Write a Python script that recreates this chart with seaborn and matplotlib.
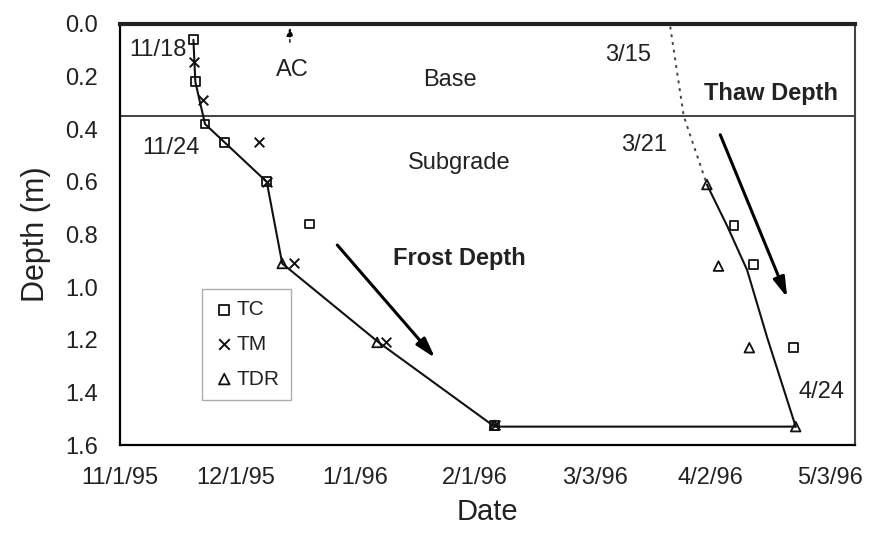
import matplotlib
matplotlib.use("Agg")
import matplotlib.pyplot as plt
import seaborn as sns
import pandas as pd
import numpy as np

# ---------------- data ----------------
frost_dates = ["1995-11-20 00:00", "1995-11-20 12:00", "1995-11-23 00:00", "1995-12-09 00:00",
               "1995-12-13 00:00", "1996-01-07 00:00", "1996-02-06 00:00", "1996-04-24 00:00"]
frost_depth = [0.06, 0.22, 0.38, 0.60, 0.91, 1.21, 1.53, 1.53]

thaw_dates = ["1996-04-01 00:00", "1996-04-06 08:00", "1996-04-11 10:00",
              "1996-04-16 14:00", "1996-04-24 00:00"]
thaw_depth = [0.61, 0.77, 0.935, 1.19, 1.53]

thaw_dotted_dates = ["1996-03-22 12:00", "1996-03-26 00:00", "1996-04-01 00:00"]
thaw_dotted_depth = [0.01, 0.35, 0.61]

tc_dates = ["1995-11-20 00:00", "1995-11-20 12:00", "1995-11-23 00:00", "1995-11-28 00:00",
            "1995-12-09 00:00", "1995-12-20 00:00", "1996-02-06 00:00", "1996-04-08 00:00",
            "1996-04-13 00:00", "1996-04-23 12:00"]
tc_depth = [0.06, 0.22, 0.38, 0.45, 0.60, 0.76, 1.525, 0.765, 0.915, 1.23]

tm_dates = ["1995-11-20 06:00", "1995-11-22 12:00", "1995-12-07 00:00", "1995-12-09 00:00",
            "1995-12-16 00:00", "1996-01-09 00:00", "1996-02-06 00:00"]
tm_depth = [0.145, 0.29, 0.45, 0.60, 0.91, 1.21, 1.525]

tdr_dates = ["1995-12-13 00:00", "1996-01-06 14:00", "1996-02-06 00:00", "1996-04-01 00:00",
             "1996-04-04 00:00", "1996-04-12 00:00", "1996-04-24 00:00"]
tdr_depth = [0.91, 1.21, 1.525, 0.61, 0.92, 1.23, 1.53]

layer_depth = 0.35

tick_dates = ["1995-11-01", "1995-12-01", "1996-01-01", "1996-02-01",
              "1996-03-03", "1996-04-02", "1996-05-03"]
tick_labels = ["11/1/95", "12/1/95", "1/1/96", "2/1/96", "3/3/96", "4/2/96", "5/3/96"]
y_ticks = [0.0, 0.2, 0.4, 0.6, 0.8, 1.0, 1.2, 1.4, 1.6]

# ---------------- style ----------------
sns.set_style("white")
plt.rcParams["font.family"] = ["Liberation Sans", "DejaVu Sans"]

fig, ax = plt.subplots(figsize=(8.7, 5.33), dpi=100)
fig.subplots_adjust(left=0.138, right=0.983, top=0.955, bottom=0.165)

def D(lst):
    return pd.to_datetime(pd.Series(lst), format="ISO8601")

# lines
sns.lineplot(x=D(frost_dates), y=frost_depth, sort=False, estimator=None,
             color="#111111", linewidth=1.5, ax=ax)
sns.lineplot(x=D(thaw_dates), y=thaw_depth, sort=False, estimator=None,
             color="#111111", linewidth=1.5, ax=ax)
sns.lineplot(x=D(thaw_dotted_dates), y=thaw_dotted_depth, sort=False, estimator=None,
             color="#444444", linewidth=1.4, linestyle=(0, (1.5, 2.5)), ax=ax)

# markers
sns.scatterplot(x=D(tc_dates), y=tc_depth, marker="s", s=40, facecolor="none",
                edgecolor="#111111", linewidth=1.3, label="TC", ax=ax, zorder=3)
sns.scatterplot(x=D(tm_dates), y=tm_depth, marker="x", s=48, color="#111111",
                linewidth=1.4, label="TM", ax=ax, zorder=3)
sns.scatterplot(x=D(tdr_dates), y=tdr_depth, marker="^", s=48, facecolor="none",
                edgecolor="#111111", linewidth=1.3, label="TDR", ax=ax, zorder=3)

# layer boundary
ax.axhline(layer_depth, color="#333333", linewidth=1.3, zorder=1)

# axes limits / ticks
ax.set_xlim(pd.Timestamp("1995-11-01"), pd.Timestamp("1996-05-09 10:00"))
ax.set_ylim(1.6, 0.0)
ax.set_xticks(pd.to_datetime(tick_dates))
ax.set_xticklabels(tick_labels)
ax.set_yticks(y_ticks)
ax.set_yticklabels([f"{v:.1f}" for v in y_ticks])
ax.tick_params(axis="both", which="major", direction="inout", length=12,
               width=1.4, color="black", labelsize=17, labelcolor="#222222")
ax.tick_params(axis="x", pad=10)
ax.tick_params(axis="y", pad=10)

ax.set_xlabel("Date", fontsize=21, color="#222222", labelpad=6)
ax.set_ylabel("Depth (m)", fontsize=22, color="#222222", labelpad=10)

for side in ["left", "bottom"]:
    ax.spines[side].set_color("black")
    ax.spines[side].set_linewidth(1.6)
ax.spines["top"].set_color("#222222")
ax.spines["top"].set_linewidth(3)
ax.spines["right"].set_color("#444444")
ax.spines["right"].set_linewidth(1.5)

# annotations
tk = dict(transform=ax.transAxes, color="#222222", va="center")
ax.text(0.091, 0.938, "11/18", ha="right", fontsize=17, **tk)
ax.text(0.069, 0.705, "11/24", ha="center", fontsize=17, **tk)
ax.text(0.235, 0.891, "AC", ha="center", fontsize=17, **tk)
ax.text(0.449, 0.867, "Base", ha="center", fontsize=17, **tk)
ax.text(0.461, 0.670, "Subgrade", ha="center", fontsize=17, **tk)
ax.text(0.461, 0.444, "Frost Depth", ha="center", fontsize=17, fontweight="bold", **tk)
ax.text(0.691, 0.926, "3/15", ha="center", fontsize=17, **tk)
ax.text(0.886, 0.836, "Thaw Depth", ha="center", fontsize=17, fontweight="bold", **tk)
ax.text(0.713, 0.713, "3/21", ha="center", fontsize=17, **tk)
ax.text(0.954, 0.126, "4/24", ha="center", fontsize=17, **tk)

arrow_kw = dict(arrowstyle="-|>,head_length=1.2,head_width=0.35", color="black", lw=2.2)
ax.annotate("", xy=(0.431, 0.202), xytext=(0.293, 0.480),
            xycoords="axes fraction", textcoords="axes fraction", arrowprops=arrow_kw)
ax.annotate("", xy=(0.909, 0.344), xytext=(0.815, 0.743),
            xycoords="axes fraction", textcoords="axes fraction", arrowprops=arrow_kw)
ax.annotate("", xy=(0.231, 0.998), xytext=(0.231, 0.950),
            xycoords="axes fraction", textcoords="axes fraction",
            arrowprops=dict(arrowstyle="-|>,head_length=0.5,head_width=0.2",
                            color="black", lw=1.0, linestyle=(0, (2, 2))))

leg = ax.legend(loc="upper left", bbox_to_anchor=(0.112, 0.371), frameon=True,
                fancybox=False, edgecolor="#999999", fontsize=15,
                handletextpad=0.1, handlelength=1.0, labelspacing=0.75,
                borderpad=0.55, borderaxespad=0.0, markerscale=1.1)
leg.get_frame().set_linewidth(1.0)
for t in leg.get_texts():
    t.set_color("#222222")

fig.savefig("out.png", dpi=100)
